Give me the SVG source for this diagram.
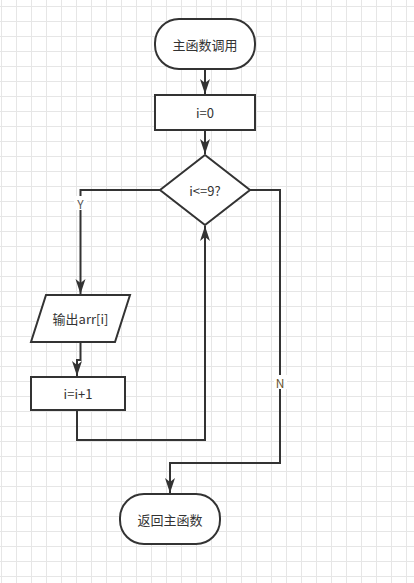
<svg xmlns="http://www.w3.org/2000/svg" width="414" height="583" viewBox="0 0 414 583">
<defs>
<pattern id="grid" patternUnits="userSpaceOnUse" x="1" y="6" width="15" height="15">
<rect x="0" y="0" width="15" height="1" fill="#e6e6e6"/>
<rect x="0" y="0" width="1" height="15" fill="#e6e6e6"/>
</pattern>
<marker id="arr" markerUnits="userSpaceOnUse" markerWidth="16" markerHeight="12" viewBox="-15 -6 16 12" refX="0" refY="0" orient="auto">
<path d="M0,0 L-15,-5 L-11,0 L-15,5 Z" fill="#333"/>
</marker>
<style>
.shape{fill:#fff;stroke:#333;stroke-width:2}
.edge{fill:none;stroke:#333;stroke-width:2}
.t{font-family:"Noto Sans CJK SC","Microsoft YaHei",sans-serif;font-size:13px;fill:#333;text-anchor:middle;dominant-baseline:central}
.lbl{font-family:"Noto Sans CJK SC",sans-serif;font-size:12px;text-anchor:middle;dominant-baseline:central}
</style>
</defs>
<rect width="414" height="583" fill="#fff"/>
<rect width="414" height="583" fill="url(#grid)"/>
<g id="connectors">
<path class="edge" d="M205,70 V94" marker-end="url(#arr)"/>
<path class="edge" d="M205,131 V154" marker-end="url(#arr)"/>
<path class="edge" d="M160,190 H80.5 V294" marker-end="url(#arr)"/>
<path class="edge" d="M80.5,342 V360 H77 V376" marker-end="url(#arr)"/>
<path class="edge" d="M77,410 V440 H205 V226" marker-end="url(#arr)"/>
<path class="edge" d="M250,190 H280 V463 H170 V493" marker-end="url(#arr)"/>
<rect x="74" y="196" width="13" height="14" fill="#fff"/>
<text class="lbl" x="80.5" y="203" fill="#555">Y</text>
<rect x="274" y="375" width="13" height="14" fill="#fff"/>
<text class="lbl" x="280" y="382" fill="#6a5530">N</text>
</g>
<g id="start">
<rect class="shape" x="155" y="19" width="100" height="50" rx="24" ry="24"/>
<text class="t" x="205" y="44">主函数调用</text>
</g>
<g id="init">
<rect class="shape" x="155" y="95" width="100" height="35"/>
<text class="t" x="205" y="112.5">i=0</text>
</g>
<g id="cond">
<polygon class="shape" points="160,190 205,155 250,190 205,225"/>
<text class="t" x="205" y="190">i&lt;=9?</text>
</g>
<g id="output">
<polygon class="shape" points="46,295 130,295 115,342 31,342"/>
<text class="t" x="80.5" y="318.5">输出arr[i]</text>
</g>
<g id="incr">
<rect class="shape" x="31" y="377" width="94" height="33"/>
<text class="t" x="78" y="393.5">i=i+1</text>
</g>
<g id="end">
<rect class="shape" x="120" y="494" width="100" height="50" rx="24" ry="24"/>
<text class="t" x="170" y="519">返回主函数</text>
</g>
</svg>
